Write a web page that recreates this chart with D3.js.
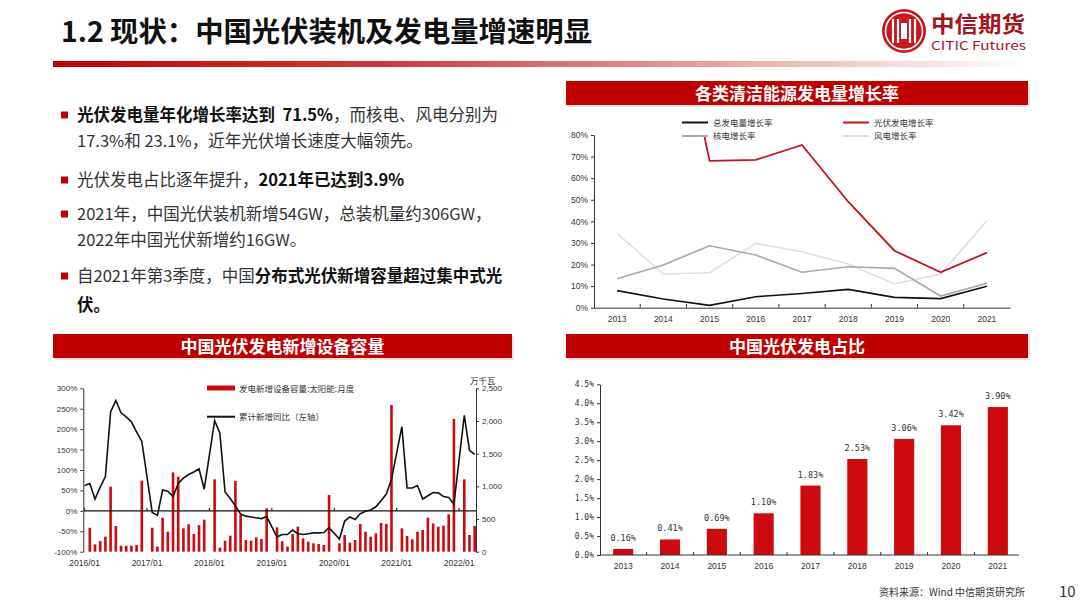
<!DOCTYPE html>
<html>
<head>
<meta charset="utf-8">
<script src="https://cdn.jsdelivr.net/npm/d3@7"></script>
<style>
  body { margin: 0; background: #fff; }
  svg { display: block; font-family: "Noto Sans CJK SC", "Noto Sans", sans-serif; }
</style>
</head>
<body>
<svg id="slide" width="1080" height="608"></svg>
<script>
// ---- 各类清洁能源发电量增长率 (%)
const YEARS = ['2013', '2014', '2015', '2016', '2017', '2018', '2019', '2020', '2021'];
const totalGrowth   = [7.9, 4.0, 1.1, 5.1, 6.6, 8.5, 4.8, 4.2, 9.9];
const solarGrowth   = [143, 170, 68, 68.5, 75.4, 49.1, 26.4, 16.4, 25.5];
const nuclearGrowth = [13.4, 19.8, 28.7, 24.4, 16.4, 19.0, 18.2, 5.4, 11.3];
const windGrowth    = [34.4, 15.6, 16.2, 29.8, 25.9, 20.2, 11.0, 15.6, 40.3];
const GROWTH_TICKS  = [0, 10, 20, 30, 40, 50, 60, 70, 80];

// ---- 中国光伏发电占比 (%)
const SHARE = [0.16, 0.41, 0.69, 1.10, 1.83, 2.53, 3.06, 3.42, 3.90];
const SHARE_TICKS = [0, 0.5, 1.0, 1.5, 2.0, 2.5, 3.0, 3.5, 4.0, 4.5];

// ---- 中国光伏发电新增设备容量 2016/01 - 2022/04
const MONTHS = [];
for (let y = 2016; y <= 2022; y++) {
  for (let m = 1; m <= 12; m++) {
    if (y === 2022 && m > 4) break;
    MONTHS.push(`${y}/${String(m).padStart(2, '0')}`);
  }
}
// 发电新增设备容量:太阳能:月度 (万千瓦), 1月无单独数据
const monthlyAdded = [
  null, 367, 112, 163, 230, 995, 393, 92, 92, 92, 102, 1087,
  null, 367, 77, 520, 306, 1214, 1148, 357, 420, 270, 405, 490,
  null, 1107, 61, 168, 245, 1082, 561, 179, 168, 219, 194, 663,
  null, 372, 160, 77, 270, 383, 204, 153, 128, 117, 102, 867,
  null, 128, 255, 138, 179, 423, 306, 230, 281, 440, 425, 2245,
  null, 357, 240, 189, 306, 332, 520, 434, 383, 398, 571, 2031,
  null, 1107, 255, 393
];
// 累计新增同比（左轴, %）
const cumulativeYoY = [
  62, 67, 29, 58, 84, 242, 270, 240, 230, 218, 193, 170,
  null, -4, -11, 51, 48, 35, 67, 80, 89, 95, 103, 53,
  null, 221, 191, 46, 30, 12, -8, -13, -15, -17, -19, -14,
  null, -64, -58, -58, -47, -56, -58, -56, -54, -54, -53, -41,
  null, -69, -25, -15, -21, -7, -1, 2, 10, 25, 41, 77,
  null, 206, 56, 56, 62, 29, 37, 45, 44, 35, 33, 16,
  null, 234, 148, 138
];
const YOY_TICKS = [-100, -50, 0, 50, 100, 150, 200, 250, 300];
const CAP_TICKS = [0, 500, 1000, 1500, 2000, 2500];

const RED = '#c00000';
const BAR_RED = '#cc0a0f';
const TXT = '#333';
const AXIS_FONT = 'Arial, "Liberation Sans", sans-serif';

const svg = d3.select('#slide');

// ---------- title ----------
svg.append('text')
  .attr('x', 61).attr('y', 42)
  .attr('font-size', 28).attr('font-weight', 700).attr('fill', '#111')
  .attr('textLength', 531).attr('lengthAdjust', 'spacingAndGlyphs')
  .text('1.2 现状：中国光伏装机及发电量增速明显');

const defs = svg.append('defs');
const grad = defs.append('linearGradient').attr('id', 'titleLine');
grad.append('stop').attr('offset', '0%').attr('stop-color', '#c00000');
grad.append('stop').attr('offset', '35%').attr('stop-color', '#d23a3a');
grad.append('stop').attr('offset', '75%').attr('stop-color', '#efb8b8');
grad.append('stop').attr('offset', '100%').attr('stop-color', '#fff');
svg.append('rect').attr('x', 53).attr('y', 61).attr('width', 975).attr('height', 6)
  .attr('fill', 'url(#titleLine)');

// logo
const logo = svg.append('g').attr('transform', 'translate(904,31)');
logo.append('circle').attr('r', 22).attr('fill', '#c8161d');
logo.append('circle').attr('r', 18.5).attr('fill', 'none').attr('stroke', '#fff').attr('stroke-width', 1.6);
[-11, -6, 6, 11].forEach(dx => {
  logo.append('line').attr('x1', dx).attr('x2', dx).attr('y1', -12).attr('y2', 12)
    .attr('stroke', '#fff').attr('stroke-width', 2.2);
});
logo.append('rect').attr('x', -3).attr('y', -8).attr('width', 6).attr('height', 16).attr('fill', '#fff');
svg.append('text').attr('x', 931).attr('y', 32)
  .attr('font-size', 22).attr('font-weight', 700).attr('fill', '#a3161c')
  .attr('textLength', 94).attr('lengthAdjust', 'spacingAndGlyphs')
  .text('中信期货');
svg.append('text').attr('x', 931).attr('y', 50)
  .attr('font-size', 12).attr('fill', '#a3161c')
  .attr('textLength', 95).attr('lengthAdjust', 'spacingAndGlyphs')
  .text('CITIC Futures');

// ---------- bullets ----------
const bullets = [
  { y: 115, mark: true, parts: [['光伏发电量年化增长率达到  71.5%', 700], ['，而核电、风电分别为', 400]] },
  { y: 141, mark: false, parts: [['17.3%和 23.1%，近年光伏增长速度大幅领先。', 400]] },
  { y: 180, mark: true, parts: [['光伏发电占比逐年提升，', 400], ['2021年已达到3.9%', 700]] },
  { y: 214, mark: true, parts: [['2021年，中国光伏装机新增54GW，总装机量约306GW，', 400]] },
  { y: 240, mark: false, parts: [['2022年中国光伏新增约16GW。', 400]] },
  { y: 276, mark: true, parts: [['自2021年第3季度，中国', 400], ['分布式光伏新增容量超过集中式光', 700]] },
  { y: 305, mark: false, parts: [['伏。', 700]] }
];
bullets.forEach(b => {
  if (b.mark) {
    svg.append('rect').attr('x', 61).attr('y', b.y - 3.5).attr('width', 7).attr('height', 7).attr('fill', RED);
  }
  const t = svg.append('text').attr('x', 77).attr('y', b.y + 6)
    .attr('font-size', 16.5).attr('fill', TXT).attr('xml:space', 'preserve');
  b.parts.forEach(([s, w]) => {
    t.append('tspan').attr('font-weight', w).attr('fill', w === 700 ? '#111' : TXT).text(s);
  });
});

// ---------- panel headers ----------
function header(x, y, w, label) {
  svg.append('rect').attr('x', x + 2).attr('y', y + 2).attr('width', w).attr('height', 24).attr('fill', '#efe2e2');
  svg.append('rect').attr('x', x).attr('y', y).attr('width', w).attr('height', 24).attr('fill', RED);
  svg.append('text').attr('x', x + w / 2).attr('y', y + 18.5)
    .attr('text-anchor', 'middle').attr('font-size', 17).attr('font-weight', 700).attr('fill', '#fff')
    .text(label);
}
header(566, 81, 462, '各类清洁能源发电量增长率');
header(53, 334, 459, '中国光伏发电新增设备容量');
header(566, 334, 462, '中国光伏发电占比');

// ---------- chart 1: growth lines ----------
(function () {
  const x = d3.scaleBand().domain(YEARS).range([594, 1010]);
  const y = d3.scaleLinear().domain([0, 80]).range([307.7, 135]);
  const g = svg.append('g');

  const yAxis = g.append('g').attr('transform', 'translate(594,0)')
    .call(d3.axisLeft(y).tickValues(GROWTH_TICKS).tickFormat(d => d + '%').tickSize(3).tickSizeOuter(0));
  yAxis.select('.domain').attr('stroke', '#333');
  yAxis.selectAll('line').attr('stroke', '#333');
  yAxis.selectAll('text').attr('font-size', 8.5).attr('fill', TXT).attr('font-family', AXIS_FONT);

  const xAxis = g.append('g').attr('transform', 'translate(0,307.7)')
    .call(d3.axisBottom(x).tickSize(0).tickPadding(8));
  xAxis.select('.domain').attr('stroke', '#333');
  xAxis.selectAll('text').attr('font-size', 8.5).attr('fill', TXT).attr('font-family', AXIS_FONT);
  YEARS.slice(1).forEach(yr => {
    g.append('line').attr('x1', x(yr)).attr('x2', x(yr)).attr('y1', 307.7).attr('y2', 304)
      .attr('stroke', '#333');
  });

  defs.append('clipPath').attr('id', 'clipGrowth')
    .append('rect').attr('x', 594).attr('y', 135).attr('width', 420).attr('height', 175);

  const series = [
    { data: windGrowth, color: '#e8dada', w: 1.6 },
    { data: nuclearGrowth, color: '#a8a8a8', w: 1.6 },
    { data: totalGrowth, color: '#111', w: 1.6 },
    { data: solarGrowth, color: '#c0141c', w: 1.8 }
  ];
  const line = d3.line()
    .x((d, i) => x(YEARS[i]) + x.bandwidth() / 2)
    .y(d => y(d));
  series.forEach(s => {
    g.append('path').attr('d', line(s.data)).attr('fill', 'none')
      .attr('stroke', s.color).attr('stroke-width', s.w)
      .attr('clip-path', 'url(#clipGrowth)');
  });

  const legend = [
    { name: '总发电量增长率', color: '#111', lx: 682, ly: 122.5 },
    { name: '光伏发电增长率', color: '#c0141c', lx: 843, ly: 122.5 },
    { name: '核电增长率', color: '#a8a8a8', lx: 682, ly: 136 },
    { name: '风电增长率', color: '#e8dada', lx: 843, ly: 136 }
  ];
  legend.forEach(l => {
    g.append('line').attr('x1', l.lx).attr('x2', l.lx + 26).attr('y1', l.ly).attr('y2', l.ly)
      .attr('stroke', l.color).attr('stroke-width', 2);
    g.append('text').attr('x', l.lx + 31).attr('y', l.ly + 3)
      .attr('font-size', 8.5).attr('fill', TXT).text(l.name);
  });
})();

// ---------- chart 2: monthly capacity + yoy ----------
(function () {
  const x = d3.scaleBand().domain(MONTHS).range([83.3, 476]).paddingInner(0.5);
  const yL = d3.scaleLinear().domain([-100, 300]).range([551.7, 388.3]);
  const yR = d3.scaleLinear().domain([0, 2500]).range([551.7, 388.3]);
  const g = svg.append('g');
  const cx = m => x(m) + x.bandwidth() / 2;

  g.selectAll('rect.cap')
    .data(MONTHS.map((m, i) => ({ m, v: monthlyAdded[i] })).filter(d => d.v != null))
    .join('rect')
    .attr('class', 'cap')
    .attr('x', d => x(d.m))
    .attr('width', x.bandwidth())
    .attr('y', d => yR(d.v))
    .attr('height', d => yR(0) - yR(d.v))
    .attr('fill', BAR_RED);

  g.append('line').attr('x1', 83.3).attr('x2', 476).attr('y1', yL(0)).attr('y2', yL(0))
    .attr('stroke', '#111').attr('stroke-width', 1.2);
  MONTHS.filter(m => m.endsWith('/01')).forEach(m => {
    g.append('line').attr('x1', cx(m)).attr('x2', cx(m)).attr('y1', yL(0)).attr('y2', yL(0) - 3)
      .attr('stroke', '#111');
    g.append('text').attr('x', cx(m)).attr('y', 566).attr('text-anchor', 'middle')
      .attr('font-size', 8.5).attr('fill', TXT).attr('font-family', AXIS_FONT)
      .text(m);
  });

  const pts = MONTHS.map((m, i) => ({ m, v: cumulativeYoY[i] })).filter(d => d.v != null);
  g.append('path')
    .attr('d', d3.line().x(d => cx(d.m)).y(d => yL(d.v))(pts))
    .attr('fill', 'none').attr('stroke', '#111').attr('stroke-width', 1.6);

  const left = g.append('g').attr('transform', 'translate(83.3,0)')
    .call(d3.axisLeft(yL).tickValues(YOY_TICKS).tickFormat(d => d + '%').tickSize(3).tickSizeOuter(0));
  left.select('.domain').attr('stroke', '#333');
  left.selectAll('line').attr('stroke', '#333');
  left.selectAll('text').attr('font-size', 8).attr('fill', TXT).attr('font-family', AXIS_FONT);

  const right = g.append('g').attr('transform', 'translate(476,0)')
    .call(d3.axisRight(yR).tickValues(CAP_TICKS).tickFormat(d3.format(',')).tickSize(3).tickSizeOuter(0));
  right.select('.domain').attr('stroke', '#333');
  right.selectAll('line').attr('stroke', '#333');
  right.selectAll('text').attr('font-size', 8).attr('fill', TXT).attr('font-family', AXIS_FONT);

  g.append('text').attr('x', 470).attr('y', 384).attr('font-size', 8.5).attr('fill', TXT).text('万千瓦');

  g.append('rect').attr('x', 207).attr('y', 385.5).attr('width', 28).attr('height', 5).attr('fill', BAR_RED);
  g.append('text').attr('x', 239).attr('y', 391.5).attr('font-size', 8.5).attr('fill', TXT)
    .text('发电新增设备容量:太阳能:月度');
  g.append('line').attr('x1', 207).attr('x2', 235).attr('y1', 416.7).attr('y2', 416.7)
    .attr('stroke', '#111').attr('stroke-width', 2);
  g.append('text').attr('x', 239).attr('y', 420).attr('font-size', 8.5).attr('fill', TXT)
    .text('累计新增同比（左轴）');
})();

// ---------- chart 3: share bars ----------
(function () {
  const x = d3.scaleBand().domain(YEARS).range([600, 1021]).paddingInner(0.57).paddingOuter(0.28);
  const y = d3.scaleLinear().domain([0, 4.5]).range([555, 384.3]);
  const g = svg.append('g');

  g.selectAll('rect.share')
    .data(SHARE)
    .join('rect')
    .attr('class', 'share')
    .attr('x', (d, i) => x(YEARS[i]))
    .attr('width', x.bandwidth())
    .attr('y', d => y(d))
    .attr('height', d => y(0) - y(d))
    .attr('fill', BAR_RED);

  g.selectAll('text.lbl')
    .data(SHARE)
    .join('text')
    .attr('class', 'lbl')
    .attr('x', (d, i) => x(YEARS[i]) + x.bandwidth() / 2)
    .attr('y', d => y(d) - 8)
    .attr('text-anchor', 'middle')
    .attr('font-size', 8.5).attr('fill', TXT).attr('font-family', '"DejaVu Sans Mono", monospace')
    .text(d => d.toFixed(2) + '%');

  const left = g.append('g').attr('transform', 'translate(600,0)')
    .call(d3.axisLeft(y).tickValues(SHARE_TICKS).tickFormat(d => d.toFixed(1) + '%').tickSize(3).tickSizeOuter(0));
  left.select('.domain').attr('stroke', '#333');
  left.selectAll('line').attr('stroke', '#333');
  left.selectAll('text').attr('font-size', 8).attr('fill', TXT).attr('font-family', '"DejaVu Sans Mono", monospace');

  g.append('line').attr('x1', 600).attr('x2', 1019).attr('y1', 555).attr('y2', 555).attr('stroke', '#333');
  const step = x.step();
  YEARS.forEach((yr, i) => {
    const c = x(yr) + x.bandwidth() / 2;
    g.append('text').attr('x', c).attr('y', 569).attr('text-anchor', 'middle')
      .attr('font-size', 8.5).attr('fill', TXT).attr('font-family', AXIS_FONT).text(yr);
    if (i > 0) {
      g.append('line').attr('x1', c - step / 2).attr('x2', c - step / 2).attr('y1', 555).attr('y2', 552)
        .attr('stroke', '#333');
    }
  });
})();

// ---------- footer ----------
svg.append('text').attr('x', 879).attr('y', 596).attr('font-size', 10).attr('fill', TXT)
  .text('资料来源：Wind 中信期货研究所');
svg.append('text').attr('x', 1059).attr('y', 597).attr('font-size', 15).attr('fill', TXT).text('10');
</script>
</body>
</html>
